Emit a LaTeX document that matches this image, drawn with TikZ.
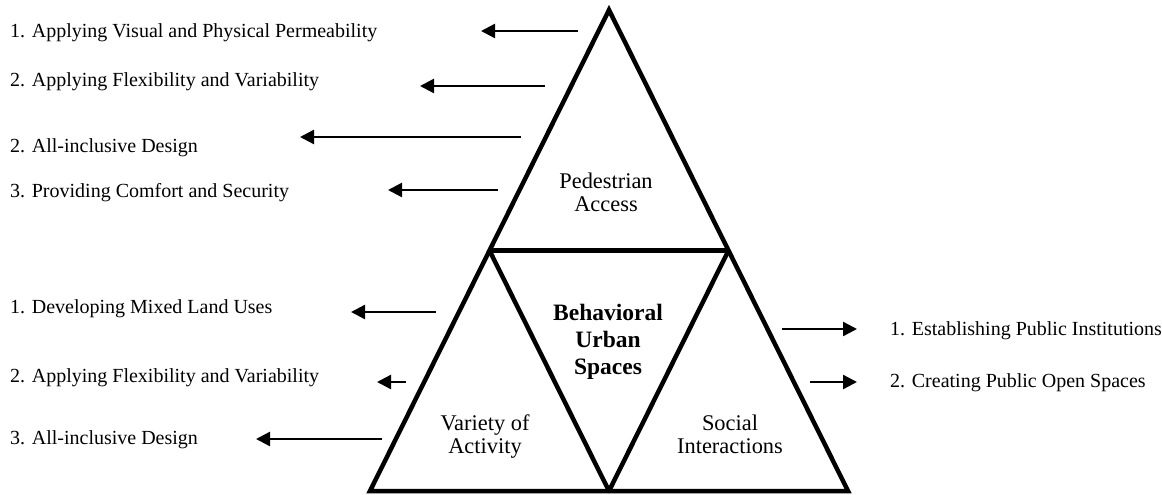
\documentclass[tikz,border=0pt]{standalone}
\usepackage{fontspec}
\setmainfont{Liberation Serif}
\usetikzlibrary{arrows.meta}
\begin{document}
\begin{tikzpicture}[x=1pt,y=-1pt,
  lbl/.style={anchor=base west,inner sep=0pt,font=\fontsize{20}{24}\selectfont},
  tri/.style={line width=4.5pt,line join=miter},
  arr/.style={line width=2.4pt,-{Triangle[length=14pt,width=14pt]}},
  inlbl/.style={align=center,inner sep=0pt,anchor=base,font=\fontsize{22.4}{23}\selectfont},
  boldlbl/.style={align=center,inner sep=0pt,anchor=base,font=\fontsize{23.5}{27}\selectfont\bfseries}]
\useasboundingbox (0,0) rectangle (1162,495);
% triangle geometry
\coordinate (apex) at (609,10);
\coordinate (bl) at (370,491);
\coordinate (br) at (848,491);
\coordinate (ml) at (489.5,250.5);
\coordinate (mr) at (728.5,250.5);
\coordinate (bm) at (609,491);
\draw[tri] (apex) -- (bl) -- (br) -- cycle;
\draw[tri] (ml) -- (mr);
\draw[tri,line join=round] (ml) -- (bm) -- (mr);
% labels inside (anchor = baseline of last line)
\node[inlbl] (ped) at (606,211) {Pedestrian\\Access};
\node[boldlbl] (bus) at (608,374) {Behavioral\\Urban\\Spaces};
\node[inlbl] (var) at (485,453) {Variety of\\Activity};
\node[inlbl] (soc) at (730,453) {Social\\Interactions};
% left texts
\node[lbl] (t1) at (10,38) {1. Applying Visual and Physical Permeability};
\node[lbl] (t2) at (10,87) {2. Applying Flexibility and Variability};
\node[lbl] (t3) at (10,152) {2. All-inclusive Design};
\node[lbl] (t4) at (10,197) {3. Providing Comfort and Security};
\node[lbl] (t5) at (10,313) {1. Developing Mixed Land Uses};
\node[lbl] (t6) at (10,382) {2. Applying Flexibility and Variability};
\node[lbl] (t7) at (10,444) {3. All-inclusive Design};
% right texts
\node[lbl] (r1) at (890,335) {1. Establishing Public Institutions};
\node[lbl] (r2) at (890,387) {2. Creating Public Open Spaces};
% arrow ends
\coordinate (a1s) at (578,31);  \coordinate (a1e) at (481,31);
\coordinate (a2s) at (545,86);  \coordinate (a2e) at (420,86);
\coordinate (a3s) at (521,137); \coordinate (a3e) at (300,137);
\coordinate (a4s) at (498,190); \coordinate (a4e) at (388,190);
\coordinate (a5s) at (436,312); \coordinate (a5e) at (351,312);
\coordinate (a6s) at (406,382); \coordinate (a6e) at (377,382);
\coordinate (a7s) at (382,439); \coordinate (a7e) at (256,439);
\coordinate (b1s) at (782,329); \coordinate (b1e) at (857,329);
\coordinate (b2s) at (810,382); \coordinate (b2e) at (857,382);
\foreach \a in {a1,a2,a3,a4,a5,a6,a7,b1,b2}
  \draw[arr] (\a s) -- (\a e);
\end{tikzpicture}
\end{document}
